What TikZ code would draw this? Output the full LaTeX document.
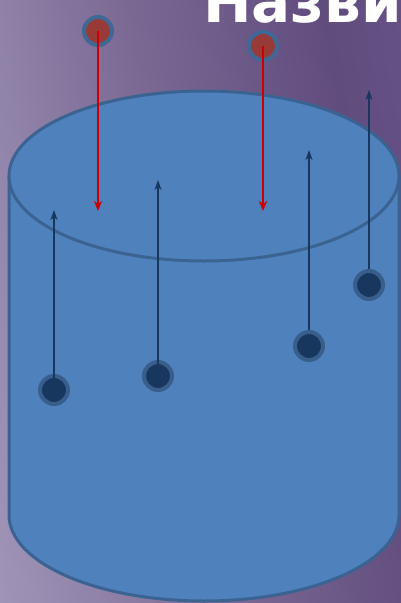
\documentclass[tikz,border=0pt]{standalone}
\usepackage{fontspec}
\usetikzlibrary{arrows.meta}
\newfontfamily\titlefont{DejaVu Sans}
\definecolor{bgA}{HTML}{BAB7D2}
\definecolor{bgB}{HTML}{9A8EB3}
\definecolor{bgC}{HTML}{7A6893}
\definecolor{bgD}{HTML}{614C7E}
\definecolor{bgE}{HTML}{6F5D93}
\definecolor{cylfill}{HTML}{4F81BD}
\definecolor{cylline}{HTML}{3B6391}
\definecolor{redfill}{HTML}{973A38}
\definecolor{redring}{HTML}{3F6895}
\definecolor{redarrow}{HTML}{CC0000}
\definecolor{darkfill}{HTML}{17375E}
\definecolor{darkring}{HTML}{385E8C}
\pgfdeclarehorizontalshading{bgshade}{100bp}{color(0bp)=(bgA); color(25bp)=(bgB); color(48bp)=(bgC); color(70bp)=(bgD); color(100bp)=(bgE)}
\tikzset{
  cyl/.style={fill=cylfill, draw=cylline, line width=3pt},
  redball/.style={circle, minimum size=28pt, inner sep=0pt, fill=redfill, draw=redring, line width=4pt},
  darkball/.style={circle, minimum size=28pt, inner sep=0pt, fill=darkfill, draw=darkring, line width=4pt},
  redarr/.style={draw=redarrow, line width=1.8pt, -{Stealth[length=10pt,width=8pt,inset=3pt]}},
  darkarr/.style={draw=darkfill, line width=1.8pt, -{Stealth[length=10pt,width=7pt,inset=3pt]}},
}
\begin{document}
\begin{tikzpicture}[x=1pt,y=1pt]
\useasboundingbox (0,0) rectangle (401,-603);
\clip (0,0) rectangle (401,-603);
\shade[shading=bgshade, shading angle=10] (0,0) rectangle (401,-603);
% title
\node[anchor=base west, inner sep=0pt, text=white, font=\titlefont\bfseries\fontsize{58}{60}\selectfont] (title) at (203,-22) {Назви};
% cylinder body
\draw[cyl] (9,-176) -- (9,-515) arc[start angle=180, end angle=360, x radius=195, y radius=86] -- (399,-176);
\draw[cyl] (204,-176) ellipse [x radius=195, y radius=85];
% red particles
\node[redball] (r1) at (98,-31) {};
\node[redball] (r2) at (263,-46) {};
\coordinate (r1e) at (98,-211);
\coordinate (r2e) at (263,-211);
\draw[redarr] (r1.center) -- (r1e);
\draw[redarr] (r2.center) -- (r2e);
% dark particles
\node[darkball] (d1) at (54,-390) {};
\node[darkball] (d2) at (158,-376) {};
\node[darkball] (d3) at (309,-346) {};
\node[darkball] (d4) at (369,-285) {};
\coordinate (d1e) at (54,-210);
\coordinate (d2e) at (158,-180);
\coordinate (d3e) at (309,-150);
\coordinate (d4e) at (369,-90);
\draw[darkarr] (d1.center) -- (d1e);
\draw[darkarr] (d2.center) -- (d2e);
\draw[darkarr] (d3.north) -- (d3e);
\draw[darkarr] (d4.north) -- (d4e);
\end{tikzpicture}
\end{document}
